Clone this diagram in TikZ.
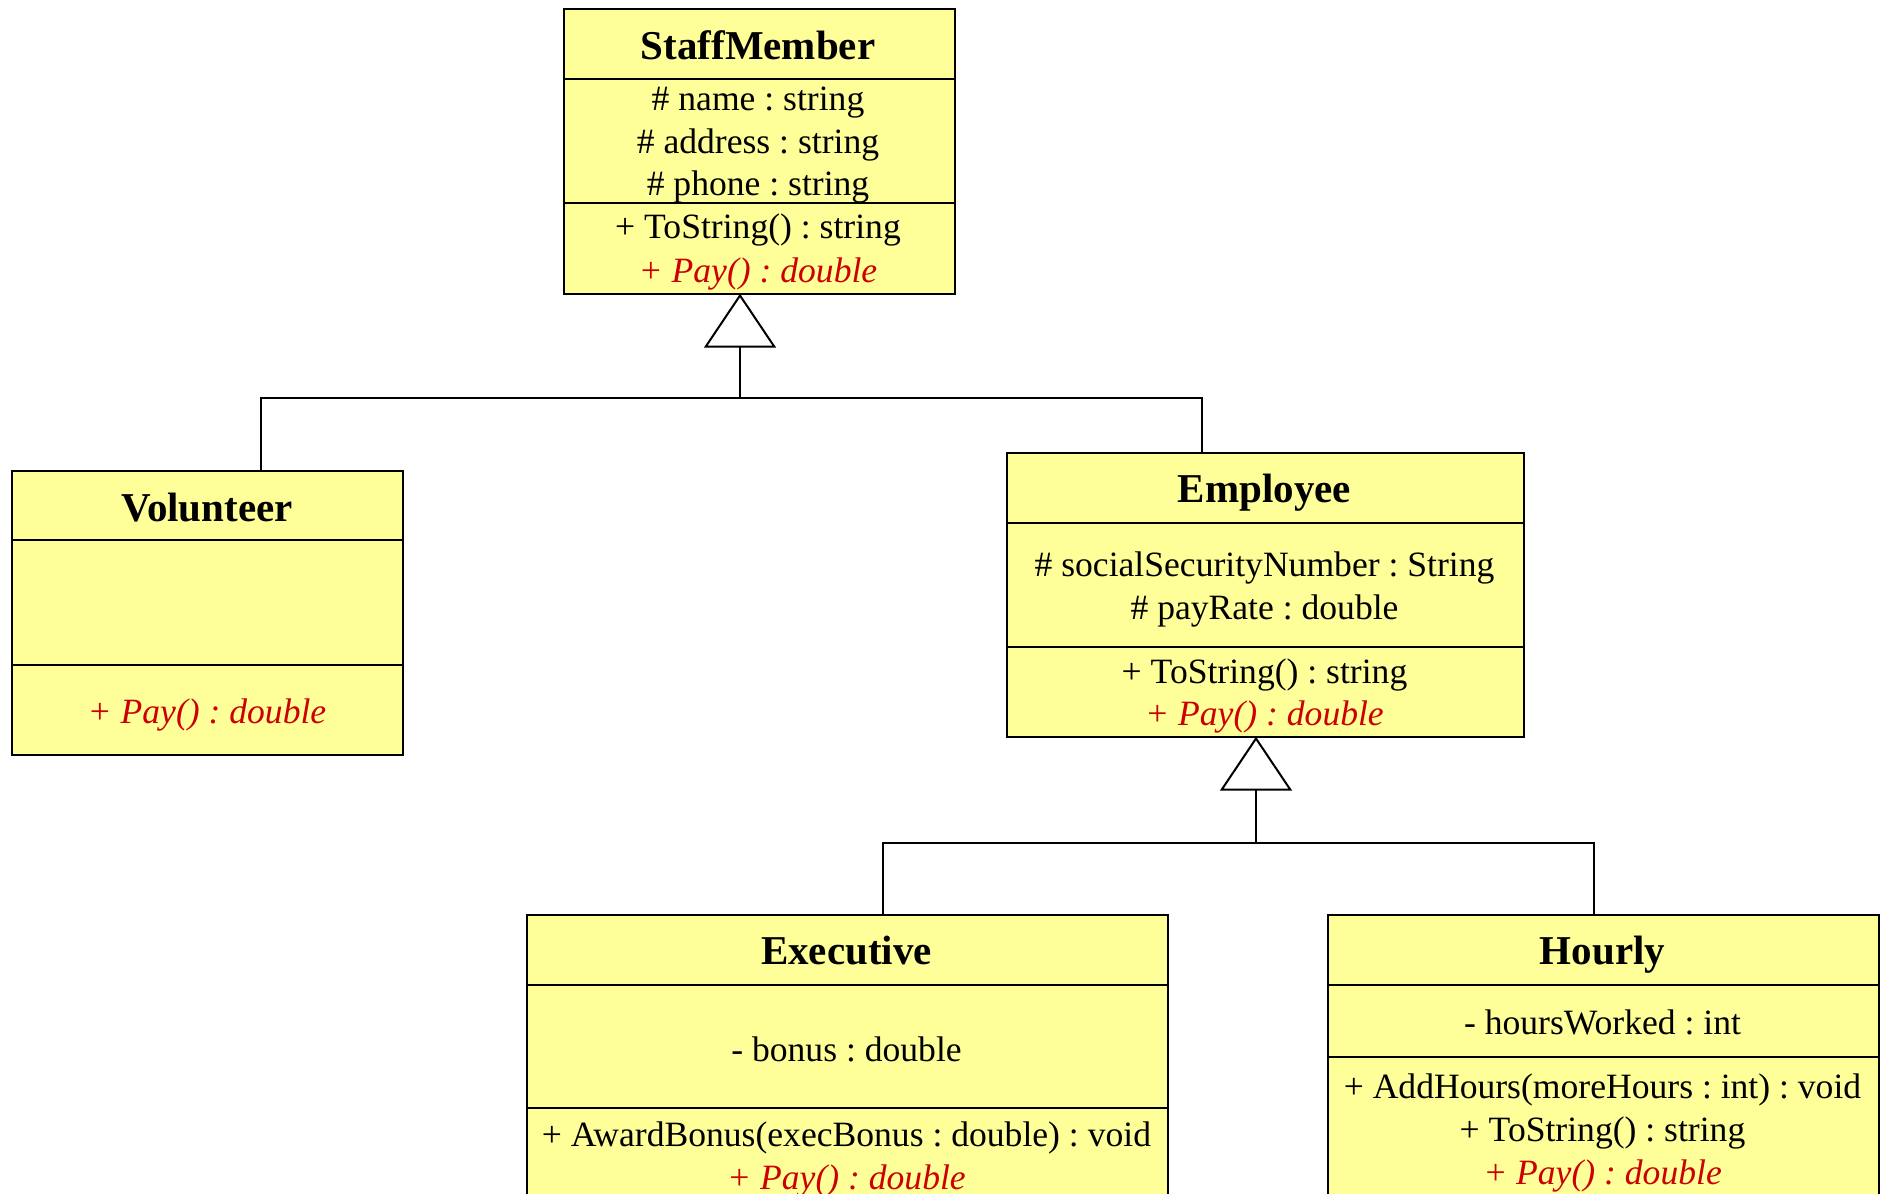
\documentclass[tikz,border=0pt]{standalone}
\usepackage{fontspec}
\setmainfont{Liberation Serif}
\usetikzlibrary{arrows.meta}
\definecolor{umlfill}{RGB}{255,255,153}
\definecolor{umlred}{RGB}{204,0,0}
\frenchspacing
\begin{document}
\begin{tikzpicture}[x=1pt,y=-1pt,
  classbox/.style={draw, line width=2.2pt, fill=umlfill, inner sep=0pt, anchor=north west},
  txt/.style={anchor=base, inner sep=0pt, font=\fontsize{35.6}{42}\selectfont},
  ttl/.style={anchor=base, inner sep=0pt, font=\fontsize{41}{49}\selectfont\bfseries},
  ital/.style={anchor=base, inner sep=0pt, text=umlred, font=\fontsize{35.6}{42}\selectfont\itshape},
  div/.style={line width=2.2pt},
  conn/.style={line width=2pt},
  gen/.style={conn, shorten >=-1.5pt, -{Triangle[open, length=54pt, width=72pt, line width=2pt]}}
]
\useasboundingbox (0,0) rectangle (1883,1194);

% StaffMember
\node[classbox, minimum width=391pt, minimum height=285pt] (sm) at (563,8) {};
\draw[div] (563,79) -- (954,79);
\draw[div] (563,203) -- (954,203);
\node[ttl] (smT) at (758,59) {StaffMember};
\node[txt] (smA1) at (758,110) {\# name : string};
\node[txt] (smA2) at (758,153) {\# address : string};
\node[txt] (smA3) at (758,195) {\# phone : string};
\node[txt] (smM1) at (758,238) {+ ToString() : string};
\node[ital] (smM2) at (758,282) {+ Pay() : double};

% Volunteer
\node[classbox, minimum width=391pt, minimum height=284pt] (vol) at (11,470) {};
\draw[div] (11,540) -- (402,540);
\draw[div] (11,665) -- (402,665);
\node[ttl] (volT) at (207,521) {Volunteer};
\node[ital] (volM1) at (207,723) {+ Pay() : double};

% Employee
\node[classbox, minimum width=517pt, minimum height=284pt] (emp) at (1006,452) {};
\draw[div] (1006,523) -- (1523,523);
\draw[div] (1006,647) -- (1523,647);
\node[ttl] (empT) at (1264.5,502) {Employee};
\node[txt] (empA1) at (1264.5,576) {\# socialSecurityNumber : String};
\node[txt] (empA2) at (1264.5,619) {\# payRate : double};
\node[txt] (empM1) at (1264.5,683) {+ ToString() : string};
\node[ital] (empM2) at (1264.5,725) {+ Pay() : double};

% Executive
\node[classbox, minimum width=641pt, minimum height=320pt] (exe) at (526,914) {};
\draw[div] (526,985) -- (1167,985);
\draw[div] (526,1108) -- (1167,1108);
\node[ttl] (exeT) at (846.5,964) {Executive};
\node[txt] (exeA1) at (846.5,1061) {- bonus : double};
\node[txt] (exeM1) at (846.5,1146) {+ AwardBonus(execBonus : double) : void};
\node[ital] (exeM2) at (846.5,1189) {+ Pay() : double};

% Hourly
\node[classbox, minimum width=551pt, minimum height=320pt] (hrl) at (1327,914) {};
\draw[div] (1327,985) -- (1878,985);
\draw[div] (1327,1057) -- (1878,1057);
\node[ttl] (hrlT) at (1602.5,964) {Hourly};
\node[txt] (hrlA1) at (1602.5,1034) {- hoursWorked : int};
\node[txt] (hrlM1) at (1602.5,1098) {+ AddHours(moreHours : int) : void};
\node[txt] (hrlM2) at (1602.5,1141) {+ ToString() : string};
\node[ital] (hrlM3) at (1602.5,1184) {+ Pay() : double};

% Generalization 1
\coordinate (j1) at (740,398);
\coordinate (v1) at (260.5,398);
\coordinate (e1) at (1202,398);
\draw[gen] (j1) -- (j1 |- sm.south);
\draw[conn] (v1 |- vol.north) -- (v1) -- (e1) -- (e1 |- emp.north);

% Generalization 2
\coordinate (j2) at (1256,843);
\coordinate (x2) at (882.5,843);
\coordinate (h2) at (1593.5,843);
\draw[gen] (j2) -- (j2 |- emp.south);
\draw[conn] (x2 |- exe.north) -- (x2) -- (h2) -- (h2 |- hrl.north);
\end{tikzpicture}
\end{document}
